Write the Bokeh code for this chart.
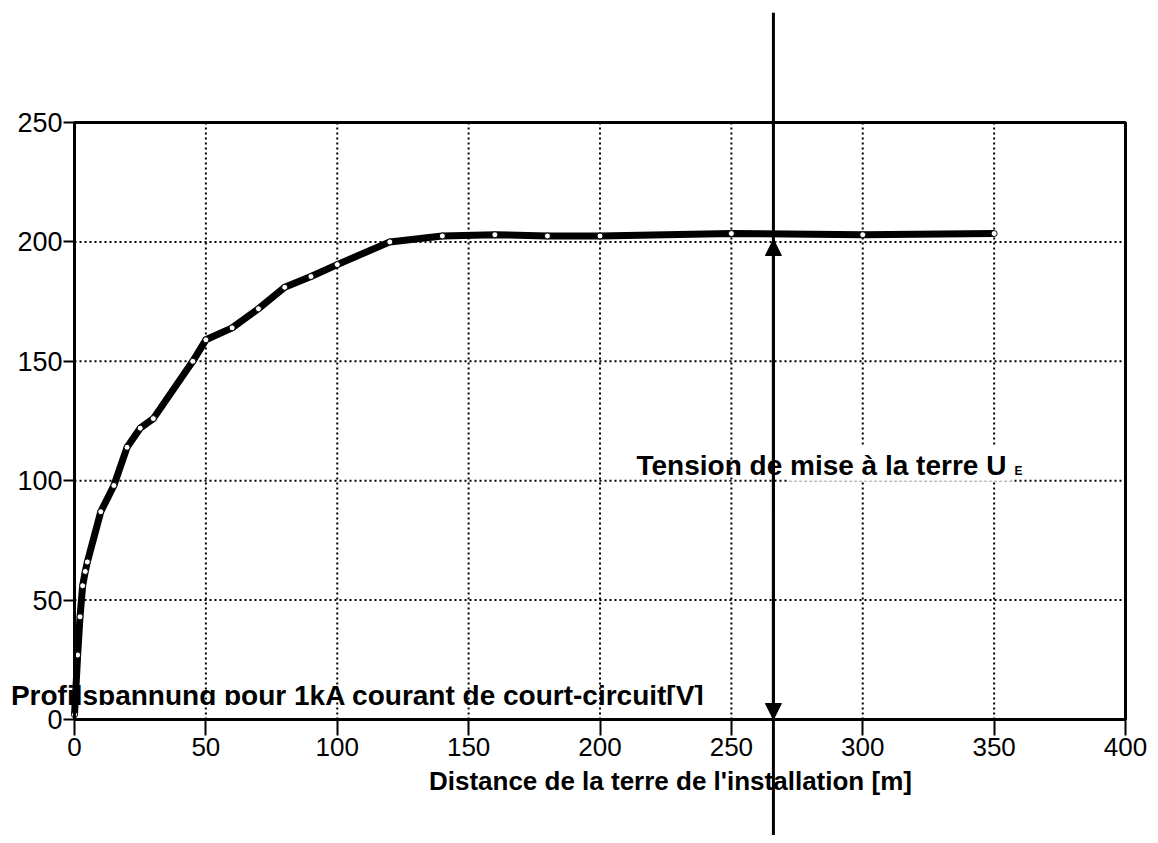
from bokeh.plotting import figure
from bokeh.models import Range1d, FixedTicker, Label, Arrow, NormalHead, BoxAnnotation
from bokeh.core.properties import value
from bokeh.embed import file_html
from bokeh.resources import INLINE

# Data (distance [m], profile voltage [V] per 1 kA)
distance = [0, 1.2, 2.1, 3.1, 4.1, 4.9, 10, 15, 20, 25, 30, 45, 50, 60, 70, 80, 90, 100,
            120, 140, 160, 180, 200, 250, 300, 350]
voltage = [2, 27, 43, 56, 62, 66, 87, 98, 114, 122, 126, 150, 159, 164, 172, 181, 185.5, 190.5,
           200, 202.5, 203, 202.5, 202.5, 203.5, 203, 203.5]
x_ticks = [0, 50, 100, 150, 200, 250, 300, 350, 400]
y_ticks = [0, 50, 100, 150, 200, 250]
ue_x = 266
ue_value = 201

FONT = "Liberation Sans"

# layout (pixels): canvas size and where the data origin should sit
W, H = 1150, 835
PX0_X, PX_PER_X = 74.0, 2.6275
PX0_Y, PX_PER_Y = 719.0, 2.388

x_lo, x_hi = x_ticks[0], x_ticks[-1]
y_lo, y_hi = y_ticks[0], y_ticks[-1]

p = figure(width=W, height=H, output_backend="svg", toolbar_location=None,
           x_range=Range1d(-PX0_X / PX_PER_X, (W - PX0_X) / PX_PER_X),
           y_range=Range1d((PX0_Y - H) / PX_PER_Y, PX0_Y / PX_PER_Y),
           min_border=0, min_border_left=0, min_border_right=0,
           min_border_top=0, min_border_bottom=0)
p.background_fill_color = "white"
p.border_fill_color = "white"
p.outline_line_color = None
p.grid.visible = False

for ax, ticks, bnds in ((p.xaxis[0], x_ticks, (x_lo, x_hi)), (p.yaxis[0], y_ticks, (y_lo, y_hi))):
    ax.ticker = FixedTicker(ticks=ticks)
    ax.fixed_location = 0
    ax.bounds = bnds
    ax.axis_line_width = 3
    ax.axis_line_color = "black"
    ax.major_tick_line_color = "black"
    ax.major_tick_line_width = 2
    ax.minor_tick_line_color = None
    ax.major_tick_in = 0
    ax.major_label_text_font = FONT
    ax.major_label_text_color = "black"

p.xaxis.major_tick_out = 16
p.xaxis.major_label_text_font_size = "26px"
p.xaxis.major_label_standoff = 2
p.yaxis.major_tick_out = 11
p.yaxis.major_label_text_font_size = "27px"
p.yaxis.major_label_standoff = 1

# y-axis title (bottom part of the glyphs is masked, as in the original)
p.text(x=[-24.2], y=[10.0], text=["Profilspannung pour 1kA courant de court-circuit[V]"],
       text_font=value(FONT), text_font_style="bold", text_font_size="28px",
       text_color="black", text_baseline="alphabetic", level="underlay")
p.quad(left=[-24.5], right=[245], bottom=[1.4], top=[6.1],
       fill_color="white", line_color=None, level="underlay")

# dotted grid, limited to the plotting box
gx = x_ticks[1:-1]
gy = y_ticks[1:-1]
p.segment(x0=gx, y0=[y_lo] * len(gx), x1=gx, y1=[y_hi] * len(gx),
          line_color="black", line_width=2, line_dash="2 3", level="underlay")
p.segment(x0=[x_lo] * len(gy), y0=gy, x1=[x_hi] * len(gy), y1=gy,
          line_color="black", line_width=2, line_dash="2 3", level="underlay")

# frame box
p.add_layout(BoxAnnotation(left=x_lo, right=x_hi, bottom=y_lo, top=y_hi,
                           fill_alpha=0, line_color="black", line_alpha=1,
                           line_width=3, level="underlay"))

p.line(distance, voltage, line_color="black", line_width=7, line_join="round")
p.scatter(distance, voltage, size=6, fill_color="white", line_color="black", line_width=1)

# white box behind the U_E label
p.add_layout(BoxAnnotation(left=272, right=356.5, bottom=99.6, top=114.5,
                           fill_color="white", fill_alpha=1, line_color=None))
p.add_layout(Arrow(x_start=272, y_start=99.8, x_end=356.5, y_end=99.8, end=None,
                   line_color="#aaaaaa", line_width=1, line_dash="3 2"))

p.add_layout(Label(x=213.9, y=106.4, text="Tension de mise à la terre U",
                   text_font=FONT, text_font_style="bold", text_font_size="28px",
                   text_color="black", text_baseline="alphabetic"))
p.add_layout(Label(x=357.8, y=104.2, text="E",
                   text_font=FONT, text_font_style="bold", text_font_size="12px",
                   text_color="black", text_baseline="alphabetic"))

p.add_layout(Label(x=226.8, y=-25.9, text="Distance de la terre de l'installation [m]",
                   text_font=FONT, text_font_style="bold", text_font_size="26px",
                   text_color="black", text_baseline="alphabetic", text_align="center"))

# vertical earthing-voltage line with arrows
p.add_layout(Arrow(x_start=ue_x, y_start=296, x_end=ue_x, y_end=-60, end=None,
                   line_color="black", line_width=3))
p.add_layout(Arrow(x_start=ue_x, y_start=100, x_end=ue_x, y_end=ue_value,
                   end=NormalHead(size=16, fill_color="black", line_color="black"),
                   line_color="black", line_width=3))
p.add_layout(Arrow(x_start=ue_x, y_start=100, x_end=ue_x, y_end=y_lo,
                   end=NormalHead(size=16, fill_color="black", line_color="black"),
                   line_color="black", line_width=3))

open("out.html", "w").write(file_html(p, INLINE))
